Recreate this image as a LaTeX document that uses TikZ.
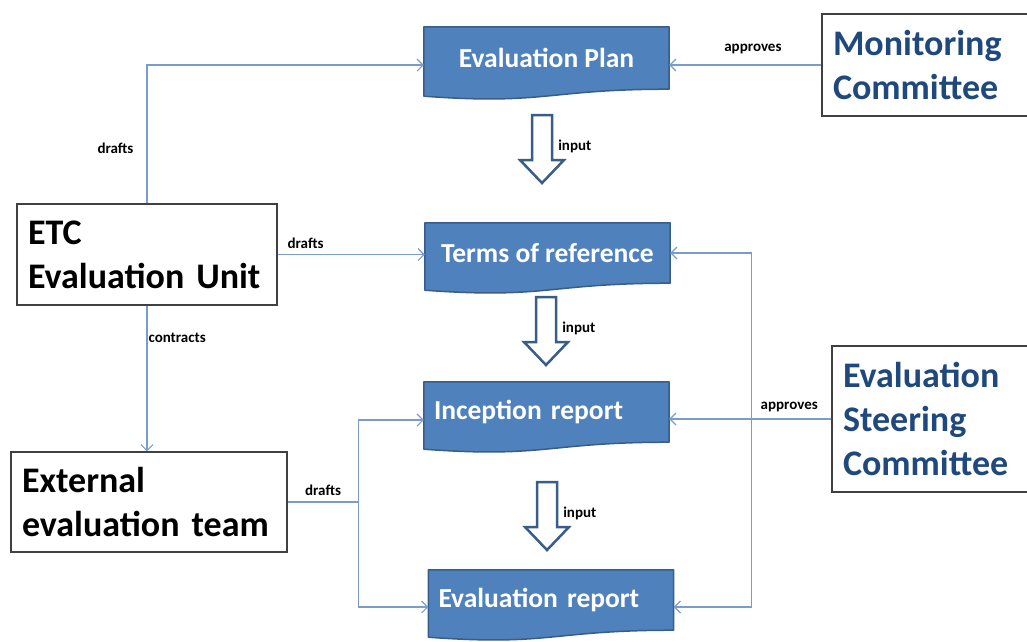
\documentclass[tikz,border=0pt]{standalone}
\usepackage{fontspec}
\setmainfont{Carlito}
\usetikzlibrary{positioning,calc,arrows.meta,backgrounds}
\definecolor{docfill}{RGB}{79,129,189}
\definecolor{docedge}{RGB}{56,93,138}
\definecolor{linkcol}{RGB}{122,156,204}
\definecolor{navy}{RGB}{31,73,125}
\tikzset{
  doc/.style={minimum width=245pt, minimum height=60pt, inner sep=0pt,
    text=white, font=\fontsize{27.5}{32}\selectfont\bfseries},
  docshape/.style={fill=docfill, draw=docedge, line width=1.5pt, line join=round},
  actor/.style={draw=black!75, line width=1.2pt, align=left, inner xsep=11pt,
    font=\fontsize{36}{44}\selectfont\bfseries},
  link/.style={draw=linkcol, line width=1.1pt, -{Straight Barb[length=6pt,width=12pt]}},
  lbl/.style={font=\fontsize{15}{17}\selectfont\bfseries, inner sep=1pt},
  inputarrow/.style={draw=docedge, fill=white, line width=2.5pt, line join=miter}
}
\begin{document}
\begin{tikzpicture}[x=1pt,y=-1pt]
  \useasboundingbox (0,0) rectangle (1027,641);

  % documents
  \node[doc, minimum height=62pt] (plan) at (546.5,58) {Evaluation Plan};
  \node[doc] (tor) at (547.5,253) {Terms of reference};
  \node[doc, text width=225pt, align=left] (inc) at (546.5,412) {Inception report};
  \node[doc, text width=225pt, align=left] (ev) at (551,600) {Evaluation report};
  \begin{scope}[on background layer]
    \foreach \n in {plan,tor,inc,ev}
      \draw[docshape] (\n.north west) -- (\n.north east) -- (\n.south east)
        .. controls (\n.south) and ($(\n.south)+(0,16)$) .. ($(\n.south west)+(0,7)$) -- cycle;
  \end{scope}

  % actors
  \node[actor, text width=238pt, minimum height=101pt] (etc) at (147,254.5)
    {ETC\\Evaluation Unit};
  \node[actor, text width=254pt, minimum height=100pt] (ext) at (149,502)
    {External\\evaluation team};
  \node[actor, text=navy, text width=188pt, minimum height=102pt] (mon) at (927,65)
    {Monitoring\\Committee};
  \node[actor, text=navy, text width=178pt, minimum height=146pt] (steer) at (932,419)
    {Evaluation\\Steering\\Committee};

  % input arrows
  \foreach \x/\y/\n in {542/115/1,546/297/2,547/482/3}
    \draw[inputarrow] (\x-10,\y) -- (\x+10,\y) -- (\x+10,\y+45) -- (\x+22,\y+45)
      -- (\x,\y+68) -- (\x-22,\y+45) -- (\x-10,\y+45) -- cycle
      node[lbl, anchor=west] (lin\n) at (\x+14,\y+31) {input};

  % connectors
  \coordinate (jl) at ($(ext.east)+(71,0)$);
  \coordinate (jr) at ($(steer.west)+(-80,0)$);
  \draw[link] (etc.north) |- ([yshift=-7pt]plan.west)
    node[lbl, pos=0.2, left=12pt] {drafts};
  \draw[link] (etc.east) -- (etc.east -| tor.west)
    node[lbl, pos=0.19, above=4pt] {drafts};
  \draw[link] (etc.south) -- (etc.south |- ext.north)
    node[lbl, pos=0.22, right=0pt] {contracts};
  \draw[-, draw=linkcol, line width=1.1pt] (ext.east) -- (jl)
    node[lbl, midway, above=5pt] {drafts};
  \draw[link] (jl) |- ([yshift=-8pt]inc.west);
  \draw[link] (jl) |- ([yshift=-7pt]ev.west);
  \draw[link] (mon.west) -- (mon.west -| plan.east)
    node[lbl, pos=0.45, above=10pt] {approves};
  \draw[link] (steer.west) -- (steer.west -| inc.east)
    node[lbl, pos=0.26, above=6pt] {approves};
  \draw[link] (jr) |- (tor.east);
  \draw[link] (jr) |- ([yshift=-7pt]ev.east);
\end{tikzpicture}
\end{document}
